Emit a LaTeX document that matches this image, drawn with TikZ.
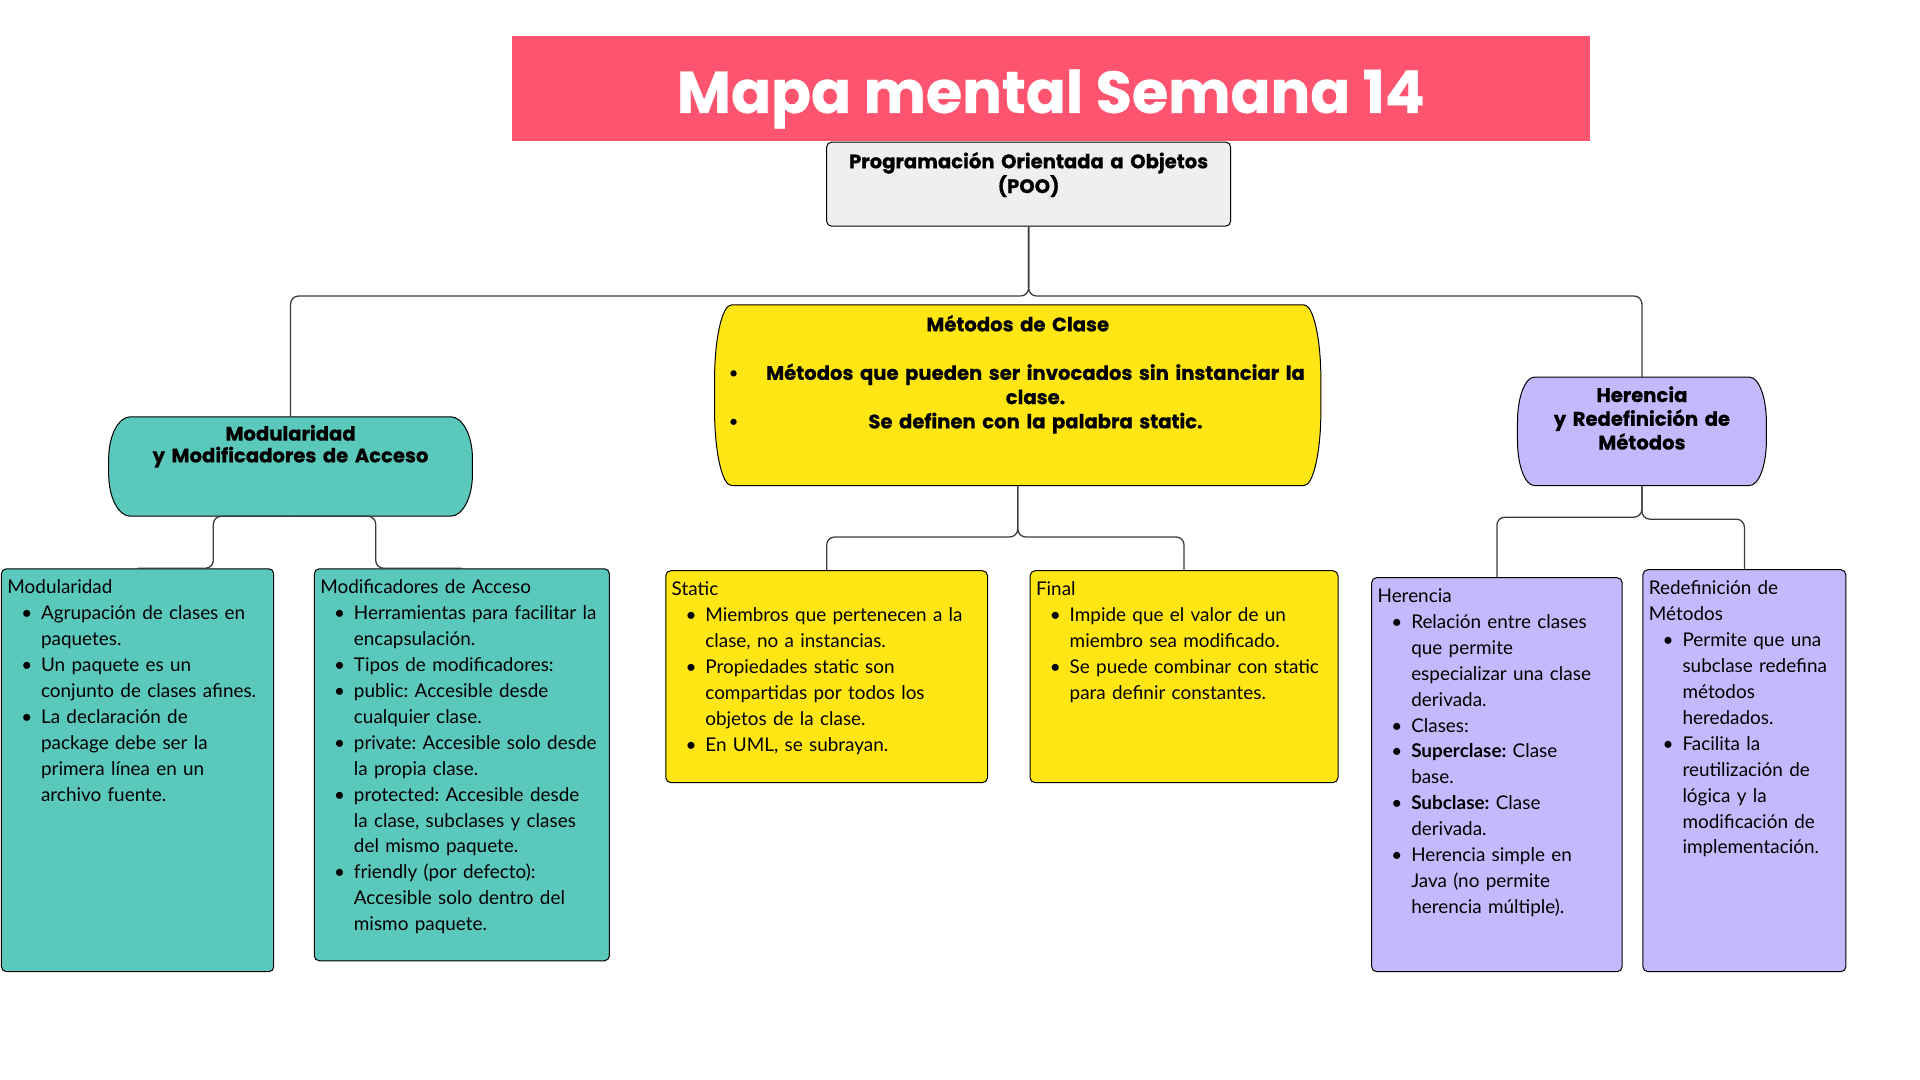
\documentclass[tikz,border=0pt]{standalone}
\usepackage{fontspec}
\setmainfont{Lato}
\newfontfamily\headfont{Poppins}[BoldFeatures={FakeBold=0.6}]
\usetikzlibrary{positioning, calc, backgrounds}

\definecolor{titleRed}{HTML}{FF5470}
\definecolor{pooGray}{HTML}{EFEFEF}
\definecolor{modTeal}{HTML}{5BC8BC}
\definecolor{metYellow}{HTML}{FFE614}
\definecolor{herLila}{HTML}{C4B9FC}
\definecolor{lineGray}{HTML}{3C3C3C}

\frenchspacing
\newcommand{\bodyfont}{\fontsize{19.1}{26.2}\selectfont}
\newcommand{\headsize}[1]{\headfont\bfseries\fontsize{19.8}{#1}\selectfont}
% caja de altura fija con el texto arriba
\newcommand{\topbox}[3]{\vbox to #1{\parindent=0pt\parskip=0pt\vskip #2 #3\par\vfill}}
\newcommand{\nl}{\hfil\break}
\newcommand{\itm}{\par\hangindent=34pt\hangafter=1\noindent\hbox to 34pt{\hskip 14pt\textbullet\hfil}}
\newcommand{\metitem}[1]{\hbox to \hsize{\hskip 14pt\textbullet\hfil #1\hfil\hskip -12pt}}
\newcommand{\metcont}[1]{\hbox to \hsize{\hskip 14pt\phantom{\textbullet}\hfil #1\hfil\hskip -12pt}}
% forma de capsula: nodo, color, radio x, radio y
\newcommand{\capsule}[4]{%
  \path[draw=black, line width=1pt, fill=#2] let \p1=(#1.north west), \p2=(#1.south east) in
    (\x1+#3,\y1) -- (\x2-#3,\y1)
    .. controls (\x2-0.45*#3,\y1) and (\x2,\y1-0.45*#4) .. (\x2,\y1-#4)
    -- (\x2,\y2+#4)
    .. controls (\x2,\y2+0.45*#4) and (\x2-0.45*#3,\y2) .. (\x2-#3,\y2)
    -- (\x1+#3,\y2)
    .. controls (\x1+0.45*#3,\y2) and (\x1,\y2+0.45*#4) .. (\x1,\y2+#4)
    -- (\x1,\y1-#4)
    .. controls (\x1,\y1-0.45*#4) and (\x1+0.45*#3,\y1) .. (\x1+#3,\y1) -- cycle;}

\begin{document}
\begin{tikzpicture}[x=1pt, y=-1pt, scale=0.99, transform shape,
    conn/.style={draw=lineGray, line width=1.3pt, rounded corners=8pt},
    listbox/.style={draw=black, line width=1pt, rounded corners=5pt, anchor=north west, inner xsep=6pt, inner ysep=0pt, font=\bodyfont},
    capnode/.style={anchor=north, inner sep=0pt}
    ]
\useasboundingbox (0,0) rectangle (1939.4,1090.9);

% titulo y tema central
\node[fill=titleRed, minimum width=1089pt, minimum height=106pt, inner sep=0pt, text height=50pt, text depth=0pt, text=white, font={\headfont\bfseries\fontsize{59.5}{60}\selectfont}] (title) at (1061.5,89) {Mapa mental Semana 14};
\node[draw=black, line width=1pt, fill=pooGray, rounded corners=5pt, anchor=north, inner sep=0pt, text width=408pt, font={\headsize{25}}] (poo) at (1039,143) {\topbox{85pt}{10pt}{\centering Programación Orientada a Objetos\\ (POO)}};

% ramas
\node[capnode, text width=367pt, font={\headsize{22}}] (mod) at (293.5,421) {\topbox{100pt}{8pt}{\centering Modularidad\\ y Modificadores de Acceso}};
\node[capnode, text width=612pt, font={\headsize{24.5}}] (met) at (1028,308) {\topbox{182pt}{10pt}{\centering Métodos de Clase\par\vskip 24.5pt
  \metitem{Métodos que pueden ser invocados sin instanciar la}
  \metcont{clase.}
  \metitem{Se definen con la palabra static.}}};
\node[capnode, text width=251pt, font={\headsize{24}}] (her) at (1658.5,381) {\topbox{109pt}{9pt}{\centering Herencia\\ y Redefinición de\\ Métodos}};

% hojas
\node[listbox, fill=modTeal, text width=263pt] (modlist) at (1,574) {\topbox{407pt}{11pt}{Modularidad
  \itm Agrupación de clases en\nl paquetes.
  \itm Un paquete es un\nl conjunto de clases afines.
  \itm La declaración de\nl package debe ser la\nl primera línea en un\nl archivo fuente.}};
\node[listbox, fill=modTeal, text width=286pt] (acclist) at (317,574) {\topbox{396pt}{11pt}{Modificadores de Acceso
  \itm Herramientas para facilitar la\nl encapsulación.
  \itm Tipos de modificadores:
  \itm public: Accesible desde\nl cualquier clase.
  \itm private: Accesible solo desde\nl la propia clase.
  \itm protected: Accesible desde\nl la clase, subclases y clases\nl del mismo paquete.
  \itm friendly (por defecto):\nl Accesible solo dentro del\nl mismo paquete.}};
\node[listbox, fill=metYellow, text width=313pt] (statlist) at (672,576) {\topbox{214pt}{11pt}{Static
  \itm Miembros que pertenecen a la\nl clase, no a instancias.
  \itm Propiedades static son\nl compartidas por todos los\nl objetos de la clase.
  \itm En UML, se subrayan.}};
\node[listbox, fill=metYellow, text width=299pt] (finlist) at (1040,576) {\topbox{214pt}{11pt}{Final
  \itm Impide que el valor de un\nl miembro sea modificado.
  \itm Se puede combinar con static\nl para definir constantes.}};
\node[listbox, fill=herLila, text width=241pt] (herlist) at (1385,583) {\topbox{398pt}{11pt}{Herencia
  \itm Relación entre clases\nl que permite\nl especializar una clase\nl derivada.
  \itm Clases:
  \itm \textbf{Superclase:} Clase\nl base.
  \itm \textbf{Subclase:} Clase\nl derivada.
  \itm Herencia simple en\nl Java (no permite\nl herencia múltiple).}};
\node[listbox, fill=herLila, text width=193pt] (redlist) at (1659,575) {\topbox{406pt}{11pt}{Redefinición de\nl Métodos
  \itm Permite que una\nl subclase redefina\nl métodos\nl heredados.
  \itm Facilita la\nl reutilización de\nl lógica y la\nl modificación de\nl implementación.}};

\begin{scope}[on background layer]
\fill[white] (0,0) rectangle (1939.4,1090.9);
\capsule{mod}{modTeal}{22}{42}
\capsule{met}{metYellow}{17}{75}
\capsule{her}{herLila}{17}{45}
\end{scope}

% conectores
\draw[conn] (poo.south) -- ++(0,70) -| (mod.north);
\draw[conn] (poo.south) -- ++(0,70) -| (her.north);
\draw[conn] (mod.south) -- ++(-78,0) |- (modlist.north);
\draw[conn] (mod.south) -- ++(86,0) |- (acclist.north);
\draw[conn] (met.south) -- ++(0,52) -| (statlist.north);
\draw[conn] (met.south) -- ++(0,52) -| (finlist.north);
\draw[conn] (her.south) -- ++(0,32) -| (herlist.north);
\draw[conn] (her.south) -- ++(0,34) -| (redlist.north);
\end{tikzpicture}
\end{document}
